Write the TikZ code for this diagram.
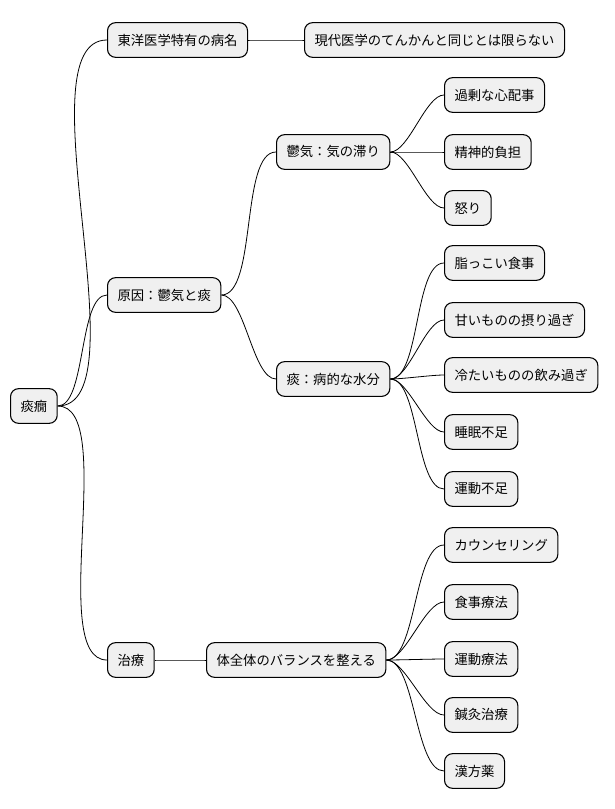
\documentclass[tikz,border=0pt]{standalone}
\usepackage{fontspec}
\setmainfont{Noto Sans CJK JP}
\begin{document}
\begin{tikzpicture}[x=0.75pt,y=-0.75pt,
  box/.style={draw=black,line width=0.8pt,fill=black!6,rounded corners=6pt,anchor=west,
    minimum height=26pt,inner xsep=7.5pt,font=\fontsize{10pt}{12pt}\selectfont},
  link/.style={draw=black,line width=0.6pt}]
\useasboundingbox (0,0) rectangle (614,809);
\node[box] (r) at (10,406) {痰癇};
\node[box] (a) at (107,40) {東洋医学特有の病名};
\node[box] (a1) at (304,40) {現代医学のてんかんと同じとは限らない};
\node[box] (b) at (107,295) {原因：鬱気と痰};
\node[box] (b1) at (276,152) {鬱気：気の滞り};
\node[box] (b11) at (444,95) {過剰な心配事};
\node[box] (b12) at (444,152) {精神的負担};
\node[box] (b13) at (444,208) {怒り};
\node[box] (b2) at (276,379) {痰：病的な水分};
\node[box] (b21) at (444,263) {脂っこい食事};
\node[box] (b22) at (444,320) {甘いものの摂り過ぎ};
\node[box] (b23) at (444,375) {冷たいものの飲み過ぎ};
\node[box] (b24) at (444,432) {睡眠不足};
\node[box] (b25) at (444,489) {運動不足};
\node[box] (c) at (107,660) {治療};
\node[box] (c1) at (206,660) {体全体のバランスを整える};
\node[box] (c11) at (444,545) {カウンセリング};
\node[box] (c12) at (444,602) {食事療法};
\node[box] (c13) at (444,659) {運動療法};
\node[box] (c14) at (444,715) {鍼灸治療};
\node[box] (c15) at (444,771) {漢方薬};
\foreach \p/\c in {r/a,r/b,r/c,a/a1,b/b1,b/b2,b1/b11,b1/b12,b1/b13,
  b2/b21,b2/b22,b2/b23,b2/b24,b2/b25,c/c1,c1/c11,c1/c12,c1/c13,c1/c14,c1/c15}
  \draw[link] (\p.east) to[out=0,in=180,looseness=0.6] (\c.west);
\end{tikzpicture}
\end{document}
